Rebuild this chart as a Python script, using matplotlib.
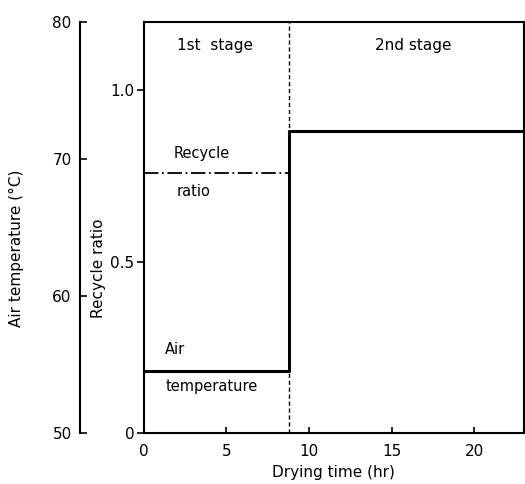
# Two-stage drying schedule: recycle ratio and air temperature vs drying time
import numpy as np
import matplotlib
matplotlib.use("Agg")
import matplotlib.pyplot as plt

# data
stage_edges = [0.0, 8.8, 23.0]          # hr, start / switch / end
recycle_ratio = [0.76, 0.88]            # 1st stage, 2nd stage
air_temp = [54.5, 72.0]                 # degC, 1st stage, 2nd stage
x_ticks = [0, 5, 10, 15, 20]
ratio_ticks = [0, 0.5, 1.0]
ratio_ticklabels = ["0", "0.5", "1.0"]
temp_ticks = [50, 60, 70, 80]

plt.rcParams["font.family"] = "DejaVu Sans"
fig = plt.figure(figsize=(5.25, 4.84), dpi=100)
ax = fig.add_axes([0.274, 0.105, 0.724, 0.85])

t = [stage_edges[0], stage_edges[1], stage_edges[1], stage_edges[2]]
r = [recycle_ratio[0], recycle_ratio[0], recycle_ratio[1], recycle_ratio[1]]
T = [air_temp[0], air_temp[0], air_temp[1], air_temp[1]]

ax.set_xlim(0, 23)
ax.set_ylim(0, 1.2)
ax.set_xticks(x_ticks)
ax.set_yticks(ratio_ticks)
ax.set_yticklabels(ratio_ticklabels)
ax.tick_params(axis="x", direction="in", length=4, width=1.2,
               labelsize=11, pad=8)
ax.tick_params(axis="y", direction="out", length=5, width=1.2,
               labelsize=11, pad=2)
for s in ax.spines.values():
    s.set_linewidth(1.5)
ax.set_xlabel("Drying time (hr)", fontsize=11, labelpad=4)
ax.set_ylabel("Recycle ratio", fontsize=11)
ax.yaxis.set_label_coords(-0.10, 0.4)

# temperature axis on the far left, same height
ax2 = ax.twinx()
ax2.set_ylim(50, 80)
ax2.set_xlim(0, 23)
ax2.spines["left"].set_position(("axes", -0.168))
ax2.spines["left"].set_visible(True)
ax2.spines["left"].set_linewidth(1.5)
for k in ["right", "top", "bottom"]:
    ax2.spines[k].set_visible(False)
ax2.yaxis.set_ticks_position("left")
ax2.yaxis.set_label_position("left")
ax2.set_yticks(temp_ticks)
ax2.tick_params(axis="y", direction="in", length=5, width=1.2,
                labelsize=11, pad=6)
ax2.set_ylabel("Air temperature (\u00b0C)", fontsize=11)
ax2.yaxis.set_label_coords(-0.315, 0.45)

ax.plot(t, r, color="k", lw=1.3, ls=(0, (8, 2, 1, 2)))
ax2.plot(t, T, color="k", lw=2.2)
ax.axvline(stage_edges[1], color="k", lw=1, ls=(0, (3, 2)))

ax.text(4.3, 1.13, "1st  stage", fontsize=11, ha="center", va="center")
ax.text(16.3, 1.13, "2nd stage", fontsize=11, ha="center", va="center")
ax.text(1.8, 0.815, "Recycle", fontsize=10.5, ha="left", va="center")
ax.text(2.0, 0.705, "ratio", fontsize=10.5, ha="left", va="center")
ax.text(1.3, 0.245, "Air", fontsize=10.5, ha="left", va="center")
ax.text(1.3, 0.135, "temperature", fontsize=10.5, ha="left", va="center")

fig.savefig("out.png", dpi=100)
